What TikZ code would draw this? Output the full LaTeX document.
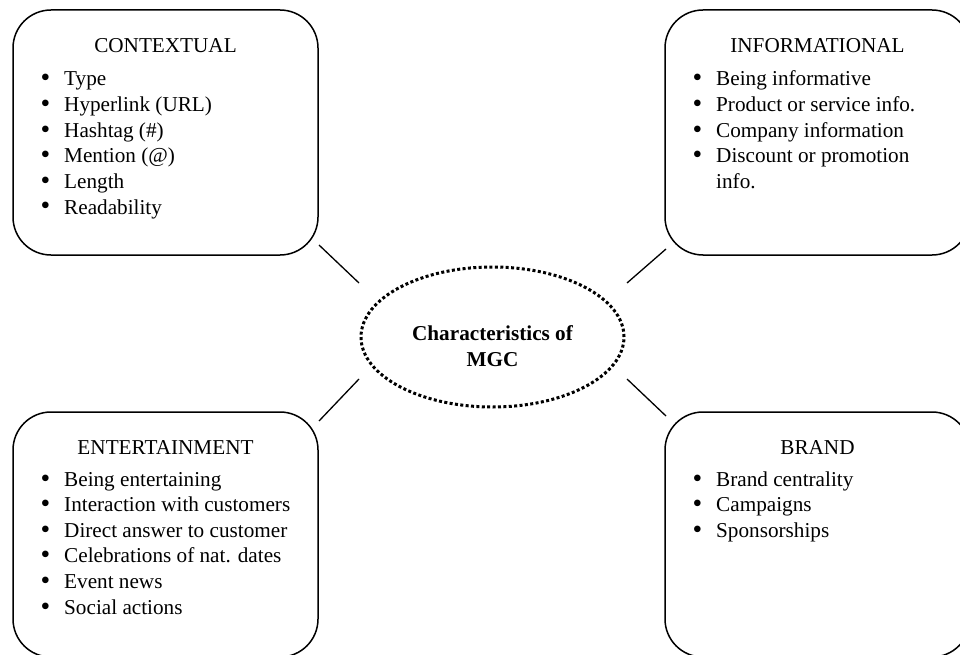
\documentclass[tikz,border=0pt]{standalone}
\usepackage{fontspec}
\setmainfont{Liberation Serif}
\usetikzlibrary{shapes.geometric}
\begin{document}
\begin{tikzpicture}[x=1pt,y=-1pt,
  txt/.style={inner sep=0pt, font=\fontsize{21.2}{25.6}\selectfont},
  box/.style={draw, line width=1.5pt, rounded corners=38pt, minimum width=305pt, minimum height=245pt, inner sep=0pt},
  head/.style={txt, anchor=base},
  item/.style={txt, anchor=base west},
  link/.style={line width=1.3pt},
  oval/.style={ellipse, draw, line width=3pt, dash pattern=on 3pt off 2.4pt, minimum width=263pt, minimum height=140pt, inner sep=0pt},
  title/.style={txt, font=\fontsize{21.2}{25.4}\selectfont\bfseries, align=center}
]
\useasboundingbox (0,0) rectangle (960,655);
\fill[white] (0,0) rectangle (960,655);

% boxes
\node[box] (tl) at (165.5,132.5) {};
\node[box] (tr) at (817.5,132.5) {};
\node[box] (bl) at (165.5,534.5) {};
\node[box] (br) at (817.5,534.5) {};

% centre
\node[oval] (ell) at (492.5,337) {};
\node[title] (ttl) at (492.5,346) {Characteristics of\\MGC};

% headings
\node[head] (tlh) at (165.5,52.5) {CONTEXTUAL};
\node[head] (trh) at (817.5,52.5) {INFORMATIONAL};
\node[head] (blh) at (165.5,454) {ENTERTAINMENT};
\node[head] (brh) at (817.5,454) {BRAND};

\newcommand{\bul}{\makebox[23.5pt][l]{\raisebox{-1pt}{\scalebox{1.3}{\textbullet}}}}
% lists
\foreach \t [count=\i] in {Type, Hyperlink (URL), Hashtag (\#), Mention (@), Length, Readability}
  \node[item] (tli\i) at (40.5,{86+25.6*(\i-1)}) {\bul\t};
\foreach \t [count=\i] in {Being informative, Product or service info., Company information, Discount or promotion}
  \node[item] (tri\i) at (692.5,{86+25.6*(\i-1)}) {\bul\t};
\node[item] (tri5) at (716,188.4) {info.};
\foreach \t [count=\i] in {Being entertaining, Interaction with customers, Direct answer to customer, Celebrations of nat. dates, Event news, Social actions}
  \node[item] (bli\i) at (40.5,{486+25.6*(\i-1)}) {\bul\t};
\foreach \t [count=\i] in {Brand centrality, Campaigns, Sponsorships}
  \node[item] (bri\i) at (692.5,{486+25.6*(\i-1)}) {\bul\t};

% connectors
\coordinate (a1) at (319,245); \coordinate (a2) at (359,283);
\coordinate (b1) at (666,249); \coordinate (b2) at (627,283);
\coordinate (c1) at (319,421); \coordinate (c2) at (359,379);
\coordinate (d1) at (666,416); \coordinate (d2) at (627,379);
\draw[link] (a1) -- (a2);
\draw[link] (b1) -- (b2);
\draw[link] (c1) -- (c2);
\draw[link] (d1) -- (d2);
\end{tikzpicture}
\end{document}
